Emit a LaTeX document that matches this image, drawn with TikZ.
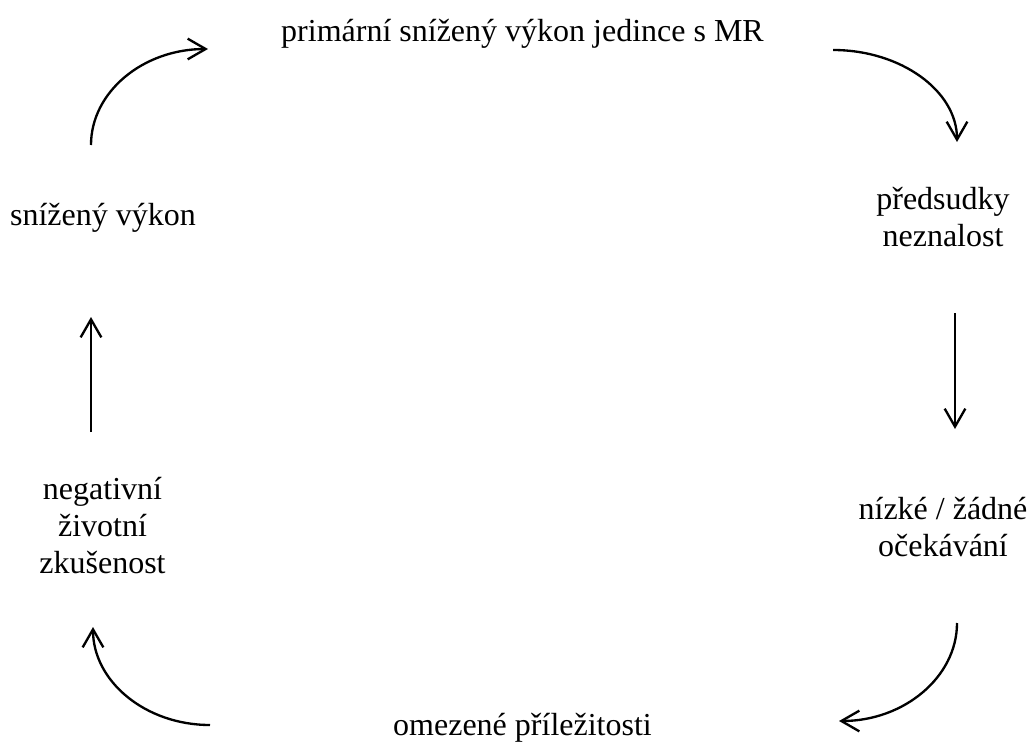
\documentclass[tikz,border=0pt]{standalone}
\usepackage{fontspec}
\setmainfont{Liberation Serif}
\usetikzlibrary{arrows.meta}
\begin{document}
\begin{tikzpicture}[x=0.75pt,y=-0.75pt,
  lbl/.style={font=\fontsize{24}{27.6}\selectfont, align=center, anchor=base, inner sep=0pt},
  arr/.style={line width=1.75pt, -{Straight Barb[length=13.5pt,width=15.5pt,line width=1.75pt]}}]
\useasboundingbox (0,0) rectangle (1031,742);
% labels (anchor = baseline of the last line)
\node[lbl] (top) at (522.5,42) {primární snížený výkon jedince s MR};
\node[lbl] (pred) at (943,246) {předsudky\\neznalost};
\node[lbl] (nizke) at (943,556) {nízké / žádné\\očekávání};
\node[lbl] (omez) at (522.5,735) {omezené příležitosti};
\node[lbl] (neg) at (102.5,573) {negativní\\životní\\zkušenost};
\node[lbl] (sniz) at (103,225) {snížený výkon};
% arrow end points
\coordinate (a1s) at (91,145);  \coordinate (a1e) at (208,49);
\coordinate (a2s) at (833,50);  \coordinate (a2e) at (957,142);
\coordinate (a3s) at (955,313); \coordinate (a3e) at (955,429);
\coordinate (a4s) at (957,623); \coordinate (a4e) at (839,721);
\coordinate (a5s) at (210,725); \coordinate (a5e) at (93,627);
\coordinate (a6s) at (91,432);  \coordinate (a6e) at (91,317);
% arrows
\draw[arr] (a1s) .. controls (91,92) and (143,49) .. (a1e);
\draw[arr] (a2s) .. controls (901,50) and (957,91) .. (a2e);
\draw[arr] (a3s) -- (a3e);
\draw[arr] (a4s) .. controls (957,677) and (904,721) .. (a4e);
\draw[arr] (a5s) .. controls (145,725) and (93,681) .. (a5e);
\draw[arr] (a6s) -- (a6e);
\end{tikzpicture}
\end{document}
